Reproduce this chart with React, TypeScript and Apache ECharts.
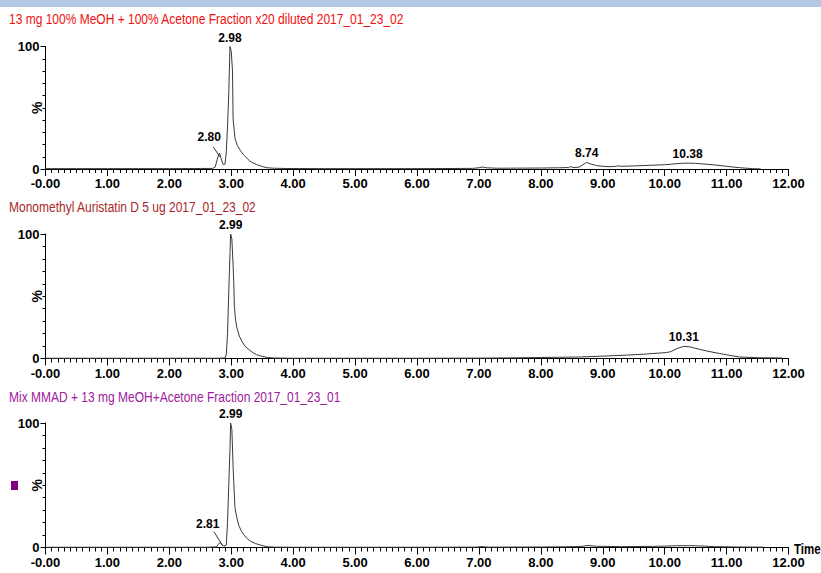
import React, { useEffect, useRef } from "react";
import * as echarts from "echarts";

// ---- Data (retention time in min, relative intensity %) ----
const titles = [
  "13 mg 100% MeOH + 100% Acetone Fraction x20 diluted 2017_01_23_02",
  "Monomethyl Auristatin D 5 ug 2017_01_23_02",
  "Mix MMAD + 13 mg MeOH+Acetone Fraction 2017_01_23_01",
];

const trace1: [number, number][] = [
  [0, 0.3], [0.5, 0.3], [1.0, 0.3], [1.5, 0.3], [2.0, 0.3], [2.5, 0.4], [2.7, 0.5],
  [2.74, 1.5], [2.78, 9], [2.81, 13], [2.84, 8], [2.87, 3.5], [2.9, 4], [2.92, 14],
  [2.94, 35], [2.96, 62], [2.98, 100], [3.0, 96], [3.02, 80], [3.03, 41], [3.06, 25],
  [3.1, 19], [3.15, 15], [3.2, 11.5], [3.25, 9], [3.3, 6.5], [3.35, 5], [3.41, 3.6],
  [3.5, 2], [3.58, 1], [3.7, 0.6], [3.9, 0.4], [4.5, 0.3], [5.0, 0.3], [5.5, 0.3],
  [6.0, 0.3], [6.5, 0.4], [6.9, 0.5], [7.0, 1.0], [7.06, 1.6], [7.12, 1.0], [7.3, 0.6],
  [7.6, 0.7], [8.0, 0.8], [8.3, 1.0], [8.45, 1.2], [8.48, 2.0], [8.52, 1.2], [8.62, 1.5],
  [8.68, 3.5], [8.74, 5.4], [8.8, 4.2], [8.9, 2.8], [9.0, 2.2], [9.1, 1.9], [9.2, 2.1],
  [9.25, 2.6], [9.3, 2.2], [9.5, 2.5], [9.76, 3], [10.0, 3.5], [10.1, 3.9], [10.2, 4.4],
  [10.3, 4.7], [10.38, 4.8], [10.5, 4.6], [10.65, 4.0], [10.83, 3.2], [11.0, 2.2],
  [11.1, 1.6], [11.25, 0.9], [11.42, 0.3], [11.55, 0.1],
];

const trace2: [number, number][] = [
  [0, 0.2], [1, 0.2], [2, 0.2], [2.8, 0.2], [2.9, 0.5], [2.92, 3], [2.94, 20], [2.96, 54],
  [2.98, 85], [2.99, 100], [3.01, 96], [3.03, 75], [3.04, 62], [3.05, 42], [3.07, 31],
  [3.09, 25], [3.13, 18], [3.17, 14], [3.22, 10], [3.28, 7.4], [3.34, 5], [3.41, 3],
  [3.5, 1.7], [3.58, 0.8], [3.7, 0.4], [4, 0.2], [5, 0.2], [6, 0.2], [7, 0.3], [7.5, 0.5],
  [8, 0.8], [8.3, 1.0], [8.63, 1.2], [9, 1.9], [9.38, 2.7], [9.7, 3.6], [10.03, 4.8],
  [10.1, 5.5], [10.2, 8], [10.31, 9.8], [10.4, 9.4], [10.56, 7.4], [10.7, 5.8],
  [10.89, 4], [11.05, 2.5], [11.21, 1.2], [11.53, 0.6], [11.9, 0.4],
];

const trace3: [number, number][] = [
  [0, 0.2], [1, 0.2], [2, 0.2], [2.6, 0.2], [2.76, 0.5], [2.79, 2.5], [2.82, 4], [2.85, 2.5],
  [2.88, 1], [2.92, 2], [2.94, 20], [2.96, 50], [2.98, 80], [2.99, 100], [3.01, 95],
  [3.03, 65], [3.04, 53], [3.06, 32], [3.09, 24], [3.12, 18], [3.16, 13.5], [3.2, 10.5],
  [3.25, 7.5], [3.31, 5], [3.39, 3.2], [3.47, 2], [3.58, 0.6], [3.7, 0.3], [4, 0.2],
  [5, 0.2], [6, 0.2], [6.95, 0.3], [7.05, 0.7], [7.15, 0.3], [8, 0.4], [8.4, 0.6],
  [8.65, 0.8], [8.76, 1.6], [8.9, 1.0], [9.3, 0.7], [9.8, 0.9], [10.0, 1.1], [10.19, 1.4],
  [10.4, 1.5], [10.6, 1.2], [10.8, 0.7], [11.2, 0.4], [11.6, 0.3],
];

// peak annotations: [label, x, y]
const peaks1: [string, number, number][] = [
  ["2.98", 2.98, 100], ["8.74", 8.74, 5.4], ["10.38", 10.37, 4.8], ["2.80", 2.645, 19],
];
const peaks2: [string, number, number][] = [
  ["2.99", 2.99, 100], ["10.31", 10.31, 9.8],
];
const peaks3: [string, number, number][] = [
  ["2.99", 2.99, 100], ["2.81", 2.62, 12],
];
// leader lines: [x1, y1, x2, y2]
const leaders1: [number, number, number, number][] = [[2.71, 18, 2.815, 10]];
const leaders2: [number, number, number, number][] = [];
const leaders3: [number, number, number, number][] = [[2.72, 12.7, 2.86, 1.5]];

const xTicks = { min: 0, max: 12, interval: 1 };
const yTicks = { min: 0, max: 100, interval: 100 };

const FONT = "'Liberation Sans', Arial, sans-serif";
const titleColors = ["#f01010", "#a82828", "#a0209c"];
const grids = [
  { top: 46.5, height: 122.5 },
  { top: 234, height: 124.5 },
  { top: 423, height: 124.5 },
];
const titleY = [19, 207, 397.5];

export default function App() {
  const ref = useRef<HTMLDivElement>(null);
  useEffect(() => {
    document.body.style.margin = "0";
    if (!ref.current) return;
    const chart = echarts.init(ref.current, undefined, { renderer: "svg" });
    const traces = [trace1, trace2, trace3];
    const peaks = [peaks1, peaks2, peaks3];
    const leaders = [leaders1, leaders2, leaders3];

    const option: any = {
      animation: false,
      backgroundColor: "#ffffff",
      grid: grids.map((g) => ({
        left: 45.5,
        right: 32.5,
        top: g.top,
        height: g.height,
        containLabel: false,
        outerBoundsMode: "none",
      })),
      xAxis: grids.map((_, i) => ({
        type: "value",
        gridIndex: i,
        min: xTicks.min,
        max: xTicks.max,
        interval: xTicks.interval,
        axisLine: { show: true, lineStyle: { color: "#000", width: 1 } },
        axisTick: { show: true, length: 7, lineStyle: { color: "#000", width: 1 } },
        minorTick: { show: true, splitNumber: 10, length: 4, lineStyle: { color: "#000", width: 1 } },
        splitLine: { show: false },
        minorSplitLine: { show: false },
        axisLabel: {
          fontFamily: FONT,
          fontSize: 13,
          fontWeight: "bold",
          color: "#000",
          margin: 8,
          formatter: (v: number) => (v === 0 ? "-0.00" : v.toFixed(2)),
        },
      })),
      yAxis: grids.map((_, i) => ({
        type: "value",
        gridIndex: i,
        min: yTicks.min,
        max: yTicks.max,
        interval: yTicks.interval,
        name: "%",
        nameLocation: "middle",
        nameGap: 2,
        nameMoveOverlap: false,
        nameTextStyle: { fontFamily: FONT, fontSize: 14, fontWeight: "bold", color: "#000" },
        axisLine: { show: true, lineStyle: { color: "#000", width: 1 } },
        axisTick: { show: true, length: 5, lineStyle: { color: "#000", width: 1 } },
        minorTick: { show: true, splitNumber: 10, length: 3, lineStyle: { color: "#000", width: 1 } },
        splitLine: { show: false },
        minorSplitLine: { show: false },
        axisLabel: { fontFamily: FONT, fontSize: 13, fontWeight: "bold", color: "#000", margin: 6 },
      })),
      series: traces.map((tr, i) => ({
        type: "line",
        xAxisIndex: i,
        yAxisIndex: i,
        data: tr,
        showSymbol: false,
        symbol: "none",
        lineStyle: { color: "#3a3a3a", width: 1 },
        silent: true,
        markPoint: {
          symbol: "circle",
          symbolSize: 0,
          silent: true,
          data: peaks[i].map(([lab, x, y]) => ({
            coord: [x, y],
            value: lab,
            label: {
              show: true,
              position: "top",
              distance: 3,
              formatter: lab,
              fontFamily: FONT,
              fontSize: 12,
              fontWeight: "bold",
              color: "#000",
            },
          })),
        },
        markLine: {
          silent: true,
          symbol: ["none", "none"],
          label: { show: false },
          lineStyle: { color: "#333", width: 1, type: "solid" },
          data: leaders[i].map(([x1, y1, x2, y2]) => [{ coord: [x1, y1] }, { coord: [x2, y2] }]),
        },
      })),
      graphic: [
        { type: "rect", x: 0, y: 0, shape: { width: 821, height: 7 }, style: { fill: "#b4c7e7" } },
        { type: "rect", x: 11, y: 481, shape: { width: 7, height: 9 }, style: { fill: "#800080" } },
        ...titles.map((t, i) => ({
          type: "text",
          x: 9,
          y: titleY[i],
          scaleX: 0.8,
          style: {
            text: t,
            fontFamily: FONT,
            fontSize: 15,
            fill: titleColors[i],
            verticalAlign: "middle",
          },
        })),
        {
          type: "text",
          x: 794,
          y: 549,
          scaleX: 0.82,
          style: {
            text: "Time",
            fontFamily: FONT,
            fontSize: 14,
            fontWeight: "bold",
            fill: "#000",
            verticalAlign: "middle",
          },
        },
      ],
    };
    chart.setOption(option);
    return () => chart.dispose();
  }, []);
  return <div ref={ref} style={{ width: 821, height: 573 }} />;
}
